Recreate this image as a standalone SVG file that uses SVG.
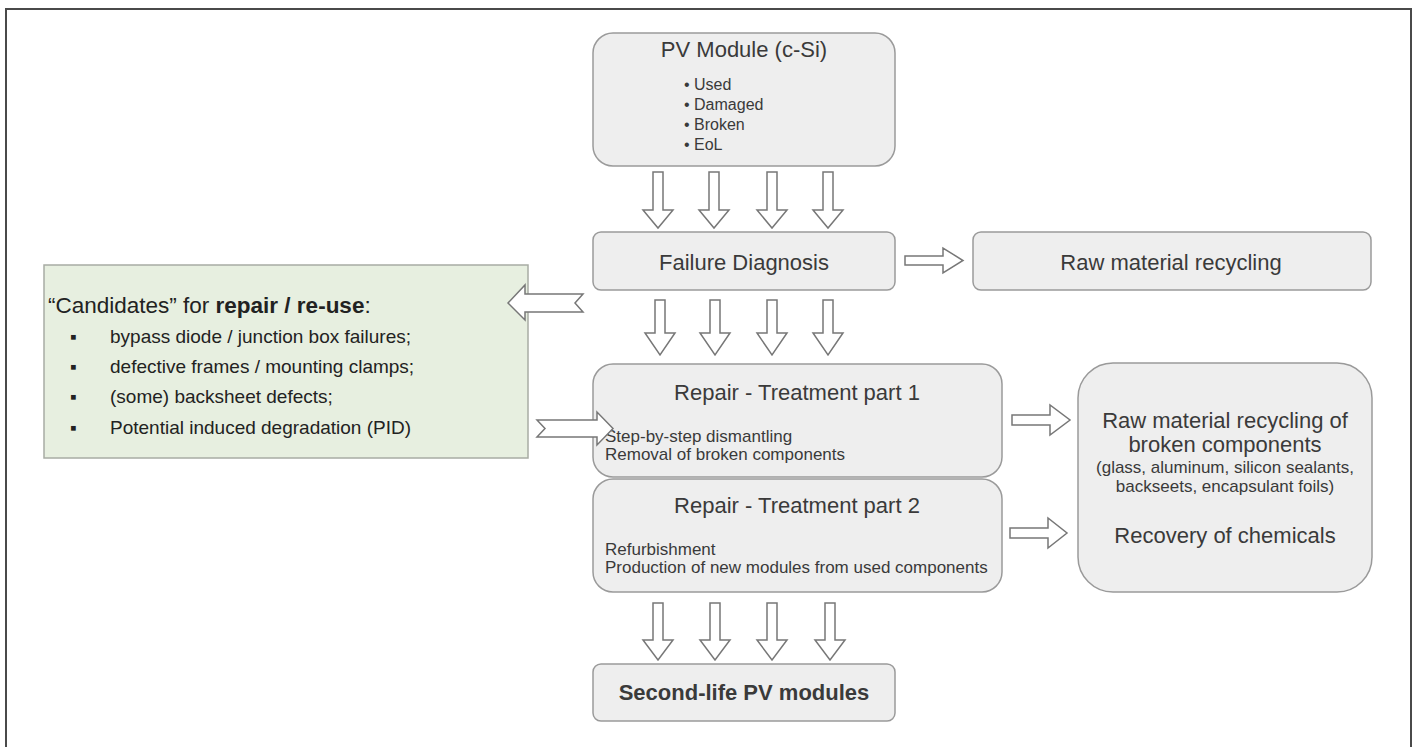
<svg xmlns="http://www.w3.org/2000/svg" width="1416" height="747" viewBox="0 0 1416 747">
<style>
text{font-family:"Liberation Sans",Arial,sans-serif;fill:#3a3a3a}
.box{fill:#eeeeee;stroke:#9a9a9a;stroke-width:1.5}
.green{fill:#e7efe0;stroke:#a8aca4;stroke-width:1.5}
.arr{fill:#ffffff;stroke:#777777;stroke-width:1.5;stroke-linejoin:miter}
.t{font-size:22px;text-anchor:middle}
.s{font-size:17px}
.b{font-size:16px}
.c{font-size:19px;fill:#222}
</style>
<rect width="1416" height="747" fill="#ffffff"/>
<path d="M6,748 V9 H1411 V748" fill="none" stroke="#4a4a4a" stroke-width="2"/>

<g id="pv-module">
<rect class="box" x="593" y="33" width="302" height="133" rx="20"/>
<text class="t" x="744" y="57">PV Module (c-Si)</text>
<text class="b" x="684" y="90">• Used</text>
<text class="b" x="684" y="110">• Damaged</text>
<text class="b" x="684" y="130">• Broken</text>
<text class="b" x="684" y="150">• EoL</text>
</g>

<g id="failure-diagnosis">
<rect class="box" x="593" y="232" width="302" height="58" rx="8"/>
<text class="t" x="744" y="270">Failure Diagnosis</text>
</g>

<g id="raw-material-recycling">
<rect class="box" x="973" y="232" width="398" height="58" rx="8"/>
<text class="t" x="1171" y="270">Raw material recycling</text>
</g>

<g id="candidates">
<rect class="green" x="44" y="265" width="484" height="193"/>
<text x="48" y="313" style="font-size:22.5px;fill:#222">“Candidates” for <tspan font-weight="bold">repair / re-use</tspan>:</text>
<text class="c" x="70" y="343">▪</text><text class="c" x="110" y="343">bypass diode / junction box failures;</text>
<text class="c" x="70" y="373">▪</text><text class="c" x="110" y="373">defective frames / mounting clamps;</text>
<text class="c" x="70" y="403">▪</text><text class="c" x="110" y="403">(some) backsheet defects;</text>
<text class="c" x="70" y="434">▪</text><text class="c" x="110" y="434">Potential induced degradation (PID)</text>
</g>

<g id="repair-1">
<rect class="box" x="593" y="364" width="409" height="113" rx="20"/>
<text class="t" x="797" y="400">Repair - Treatment part 1</text>
<text class="s" x="605" y="442">Step-by-step dismantling</text>
<text class="s" x="605" y="460">Removal of broken components</text>
</g>

<g id="repair-2">
<rect class="box" x="593" y="479" width="409" height="113" rx="20"/>
<text class="t" x="797" y="513">Repair - Treatment part 2</text>
<text class="s" x="605" y="555">Refurbishment</text>
<text class="s" x="605" y="573">Production of new modules from used components</text>
</g>

<g id="recycling-components">
<rect class="box" x="1078" y="363" width="294" height="229" rx="35"/>
<text class="t" x="1225" y="428">Raw material recycling of</text>
<text class="t" x="1225" y="452">broken components</text>
<text class="s" x="1225" y="473" text-anchor="middle">(glass, aluminum, silicon sealants,</text>
<text class="s" x="1225" y="492" text-anchor="middle">backseets, encapsulant foils)</text>
<text class="t" x="1225" y="543">Recovery of chemicals</text>
</g>

<g id="second-life">
<rect class="box" x="593" y="664" width="302" height="57" rx="8"/>
<text class="t" x="744" y="700" font-weight="bold">Second-life PV modules</text>
</g>

<g id="connectors">
<path class="arr" d="M653,172 H663 V210 H673 L658,228 L643,210 H653 Z"/>
<path class="arr" d="M709,172 H719 V210 H729 L714,228 L699,210 H709 Z"/>
<path class="arr" d="M767,172 H777 V210 H787 L772,228 L757,210 H767 Z"/>
<path class="arr" d="M823,172 H833 V210 H843 L828,228 L813,210 H823 Z"/>

<path class="arr" d="M655,300 H665 V333 H675 L660,355 L645,333 H655 Z"/>
<path class="arr" d="M710,300 H720 V333 H730 L715,355 L700,333 H710 Z"/>
<path class="arr" d="M767,300 H777 V333 H787 L772,355 L757,333 H767 Z"/>
<path class="arr" d="M823,300 H833 V333 H843 L828,355 L813,333 H823 Z"/>

<path class="arr" d="M653,603 H663 V640 H673 L658,660 L643,640 H653 Z"/>
<path class="arr" d="M710,603 H720 V640 H730 L715,660 L700,640 H710 Z"/>
<path class="arr" d="M767,603 H777 V640 H787 L772,660 L757,640 H767 Z"/>
<path class="arr" d="M825,603 H835 V640 H845 L830,660 L815,640 H825 Z"/>

<path class="arr" d="M905,256 H943 V248 L963,260.5 L943,273 V265 H905 Z"/>
<path class="arr" d="M1012,415 H1050 V405 L1070,420 L1050,435 V425 H1012 Z"/>
<path class="arr" d="M1010,528 H1048 V518 L1067,533 L1048,548 V538 H1010 Z"/>

<path class="arr" d="M508,303 L525,285 V294 H583 L575,303 L583,312 H525 V320 Z"/>
<path class="arr" d="M537,420 H597 V412 L613,428.5 L597,445 V437 H537 L545,428.5 Z"/>
</g>
</svg>
